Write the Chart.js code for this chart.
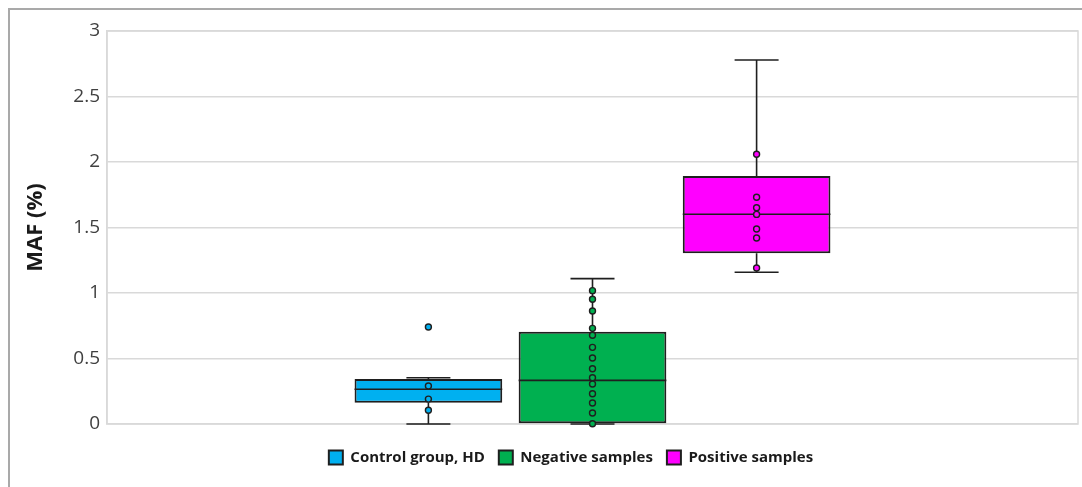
<!DOCTYPE html>
<html>
<head>
<meta charset="utf-8">
<script src="https://cdn.jsdelivr.net/npm/chart.js@4/dist/chart.umd.min.js"></script>
<style>
    body { margin: 0; background: #fff; }
    #frame { position: absolute; left: 8px; top: 8px; width: 1100px; height: 500px; border: 2px solid #a9a9a9; }
    #wrap { position: absolute; left: 0; top: 0; width: 1082px; height: 487px; }
</style>
</head>
<body>
<div id="frame"></div>
<div id="wrap"><canvas id="chart"></canvas></div>
<script>
const groups = ['Control group, HD', 'Negative samples', 'Positive samples'];
const colors = ['#00b0f0', '#00b050', '#ff00ff'];
const yTicks = [0, 0.5, 1, 1.5, 2, 2.5, 3];

// box = q1..q3, whiskers = min..max
const boxLow = [0.163, 0, 1.303];
const boxHigh = [0.344, 0.705, 1.893];
const medians = [0.265, 0.333, 1.601];
const whiskerLow = [0, 0, 1.158];
const whiskerHigh = [0.353, 1.11, 2.779];

const controlPoints = [0.74, 0.29, 0.19, 0.105];
const negativePoints = [1.018, 0.952, 0.863, 0.73, 0.677, 0.585, 0.504, 0.422, 0.353, 0.305, 0.231, 0.16, 0.084, 0.002];
const positivePoints = [2.059, 1.731, 1.651, 1.6, 1.489, 1.42, 1.191];
const points = [controlPoints, negativePoints, positivePoints];

const edge = '#1f1f1f';

// whiskers, medians and dots on top of the floating bars
const boxPlotExtras = {
    id: 'boxPlotExtras',
    afterDatasetsDraw(chart) {
        const ctx = chart.ctx;
        const y = chart.scales.y;
        ctx.save();
        groups.forEach(function (name, i) {
            const bar = chart.getDatasetMeta(i).data[0];
            const x = bar.x;
            const half = bar.width / 2;
            const cap = 22;
            ctx.strokeStyle = edge;
            ctx.lineWidth = 1.6;
            ctx.beginPath();
            ctx.moveTo(x, y.getPixelForValue(boxHigh[i]));
            ctx.lineTo(x, y.getPixelForValue(whiskerHigh[i]));
            ctx.moveTo(x - cap, y.getPixelForValue(whiskerHigh[i]));
            ctx.lineTo(x + cap, y.getPixelForValue(whiskerHigh[i]));
            ctx.moveTo(x, y.getPixelForValue(boxLow[i]));
            ctx.lineTo(x, y.getPixelForValue(whiskerLow[i]));
            ctx.moveTo(x - cap, y.getPixelForValue(whiskerLow[i]));
            ctx.lineTo(x + cap, y.getPixelForValue(whiskerLow[i]));
            ctx.moveTo(x - half, y.getPixelForValue(medians[i]));
            ctx.lineTo(x + half, y.getPixelForValue(medians[i]));
            ctx.stroke();

            ctx.lineWidth = 1.4;
            ctx.fillStyle = colors[i];
            points[i].forEach(function (v) {
                ctx.beginPath();
                ctx.arc(x, y.getPixelForValue(v), 3, 0, Math.PI * 2);
                ctx.fill();
                ctx.stroke();
            });
        });
        ctx.restore();
    }
};

const plotBorder = {
    id: 'plotBorder',
    beforeDatasetsDraw(chart) {
        const a = chart.chartArea;
        const ctx = chart.ctx;
        ctx.save();
        ctx.strokeStyle = '#d9d9d9';
        ctx.lineWidth = 1.5;
        ctx.strokeRect(a.left, a.top, a.right - a.left, a.bottom - a.top);
        ctx.restore();
    }
};

const datasets = groups.map(function (name, i) {
    return {
        label: name,
        data: [[boxLow[i], boxHigh[i]]],
        backgroundColor: colors[i],
        borderColor: edge,
        borderWidth: 2,
        borderSkipped: false,
        categoryPercentage: 0.507,
        barPercentage: 0.9
    };
});

new Chart(document.getElementById('chart'), {
    type: 'bar',
    data: { labels: [''], datasets: datasets },
    options: {
        responsive: true,
        maintainAspectRatio: false,
        animation: false,
        layout: { padding: { left: 64, right: 4, top: 31, bottom: 12 } },
        plugins: {
            tooltip: { enabled: false },
            legend: {
                position: 'bottom',
                labels: {
                    color: '#1a1a1a',
                    font: { family: 'Open Sans', size: 15, weight: 'bold' },
                    boxWidth: 14,
                    boxHeight: 14,
                    padding: 14
                }
            }
        },
        scales: {
            x: {
                display: true,
                grid: { display: false },
                border: { display: false },
                ticks: { display: false },
                afterFit: function (scale) { scale.height = 12; }
            },
            y: {
                min: 0,
                max: 3,
                afterBuildTicks: function (scale) {
                    scale.ticks = yTicks.map(v => ({ value: v }));
                },
                afterFit: function (scale) { scale.width = 43; },
                border: { color: '#d9d9d9', width: 1.5 },
                grid: { color: '#d9d9d9', lineWidth: 1.5, drawTicks: false },
                ticks: {
                    color: '#404040',
                    padding: 7,
                    font: { family: 'Open Sans', size: 19 },
                    callback: function (value) { return String(value); }
                },
                title: {
                    display: true,
                    text: 'MAF (%)',
                    color: '#1a1a1a',
                    padding: { top: -41, bottom: 0 },
                    font: { family: 'Open Sans', size: 22, weight: 'bold' }
                }
            }
        }
    },
    plugins: [plotBorder, boxPlotExtras]
});
</script>
</body>
</html>
